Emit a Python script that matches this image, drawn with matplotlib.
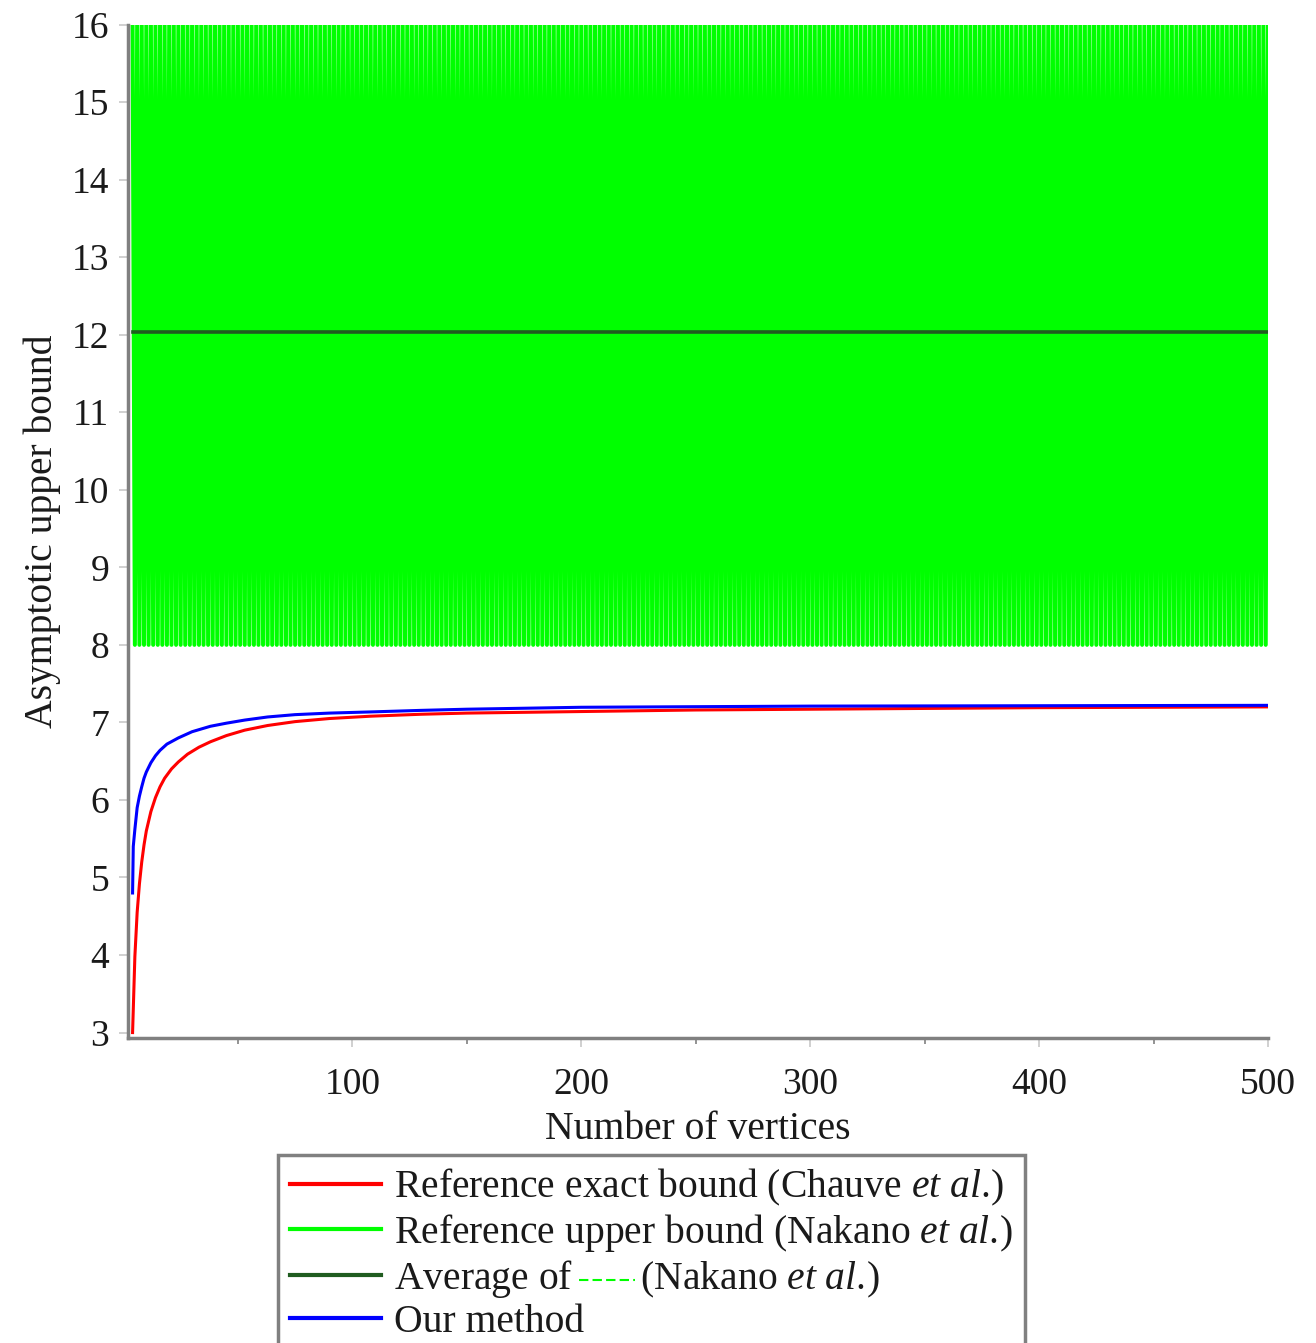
import numpy as np
import matplotlib
matplotlib.use("Agg")
import matplotlib.pyplot as plt
from matplotlib.lines import Line2D

plt.rcParams['font.family'] = ['Liberation Serif', 'DejaVu Serif']
plt.rcParams['mathtext.fontset'] = 'custom'
plt.rcParams['mathtext.rm'] = 'Liberation Serif'
plt.rcParams['mathtext.it'] = 'Liberation Serif:italic'

# %%
# values

# exact bound (Chauve et al.)
red_n = [4, 5, 6, 7, 8, 9, 10, 12, 14, 16, 18, 21, 24, 28, 33, 38, 45, 53, 63, 75,
         90, 108, 130, 150, 175, 200, 250, 300, 400, 500]
red_v = [3.0, 3.98, 4.55, 4.92, 5.2, 5.42, 5.6, 5.85, 6.03, 6.17, 6.28, 6.4, 6.49,
         6.59, 6.68, 6.75, 6.83, 6.9, 6.96, 7.01, 7.05, 7.08, 7.105, 7.12, 7.13,
         7.14, 7.16, 7.17, 7.19, 7.20]

# our method
blue_n = [4, 4.3, 5, 6, 7, 8, 9, 10, 12, 14, 16, 19, 24, 30, 38, 45, 53, 63, 75, 90,
          108, 130, 150, 200, 300, 400, 500]
blue_v = [4.80, 5.40, 5.62, 5.90, 6.05, 6.17, 6.28, 6.36, 6.48, 6.57, 6.64, 6.72,
          6.80, 6.88, 6.95, 6.99, 7.03, 7.07, 7.10, 7.12, 7.135, 7.155, 7.17, 7.195,
          7.21, 7.215, 7.22]

# upper bound (Nakano et al.): jumps between 16 and 8 at every n
upper_n = list(range(4, 501))
upper_v = [16.0, 8.0] * (len(upper_n) // 2) + [16.0] * (len(upper_n) % 2)

# average of the upper bound
avg_n = [4, 500]
avg_v = [12.04, 12.04]

xticks = [100, 200, 300, 400, 500]
xminor = [50, 150, 250, 350, 450]
yticks = list(range(3, 17))

# %%
W, H = 1316, 1343
fig = plt.figure(figsize=(W / 100, H / 100), dpi=100)
ax = fig.add_axes([128 / W, 1 - 1038 / H, (1268 - 128) / W, (1038 - 24.5) / H])

etal = r'$\mathit{et\ al.}\!$'
ln_up, = ax.plot(upper_n, upper_v, color='#00ff00', lw=2.9,
                 label='Reference upper bound (Nakano ' + etal + ')')
ln_avg, = ax.plot(avg_n, avg_v, color='#205c20', lw=2.6,
                  label='Average of       (Nakano ' + etal + ')')
ln_red, = ax.plot(red_n, red_v, color='#ff0000', lw=2.2,
                  label='Reference exact bound (Chauve ' + etal + ')')
ln_blue, = ax.plot(blue_n, blue_v, color='#0000ff', lw=2.2,
                   label='Our method')

ax.set_xlim(2, 500)
ax.set_ylim(2.93, 16.0)
ax.set_xticks(xticks)
ax.set_xticks(xminor, minor=True)
ax.set_yticks(yticks)

for s in ['top', 'right']:
    ax.spines[s].set_visible(False)
for s in ['left', 'bottom']:
    ax.spines[s].set_color('#808080')
    ax.spines[s].set_linewidth(2.5)

ax.tick_params(axis='both', which='major', direction='out', length=6.5, width=1.2,
               color='#c8c8c8', labelsize=27, labelcolor='#1a1a1a')
ax.tick_params(axis='y', which='major', pad=7)
ax.tick_params(axis='x', which='major', pad=15)
ax.tick_params(axis='x', which='minor', direction='out', length=4, width=1.2,
               color='#808080')

ax.set_xlabel('Number of vertices', fontsize=28.5, color='#1a1a1a', labelpad=6)
ax.set_ylabel('Asymptotic upper bound', fontsize=28.5, color='#1a1a1a', labelpad=8)

leg = ax.legend(handles=[ln_red, ln_up, ln_avg, ln_blue], loc='upper left',
                bbox_to_anchor=(278 / W, 1 - 1155 / H), bbox_transform=fig.transFigure,
                fontsize=28.5, frameon=True, fancybox=False, borderpad=0.3,
                labelspacing=0.1, handlelength=2.3, handletextpad=0.33,
                borderaxespad=0.0)
leg.get_frame().set_edgecolor('#606060')
leg.get_frame().set_linewidth(2.5)
for t in leg.get_texts():
    t.set_color('#1a1a1a')
for h in leg.legend_handles:
    h.set_linewidth(3)

# small green dashed sample inside the "Average of" label
fig.canvas.draw()
r = fig.canvas.get_renderer()
txt = leg.get_texts()[2]
bb = txt.get_window_extent(r)
tmp = fig.text(0, 0, 'Average of ', fontproperties=txt.get_fontproperties())
w = tmp.get_window_extent(r).width
tmp.remove()
x0 = bb.x0 + w + 1
ym = bb.y0 + bb.height * 0.47
fig.add_artist(Line2D([x0 / W, (x0 + 56) / W], [ym / H, ym / H],
                      transform=fig.transFigure, color='#00ff00', lw=1.5,
                      dashes=(4.5, 2)))

fig.savefig('out.png', dpi=100)
